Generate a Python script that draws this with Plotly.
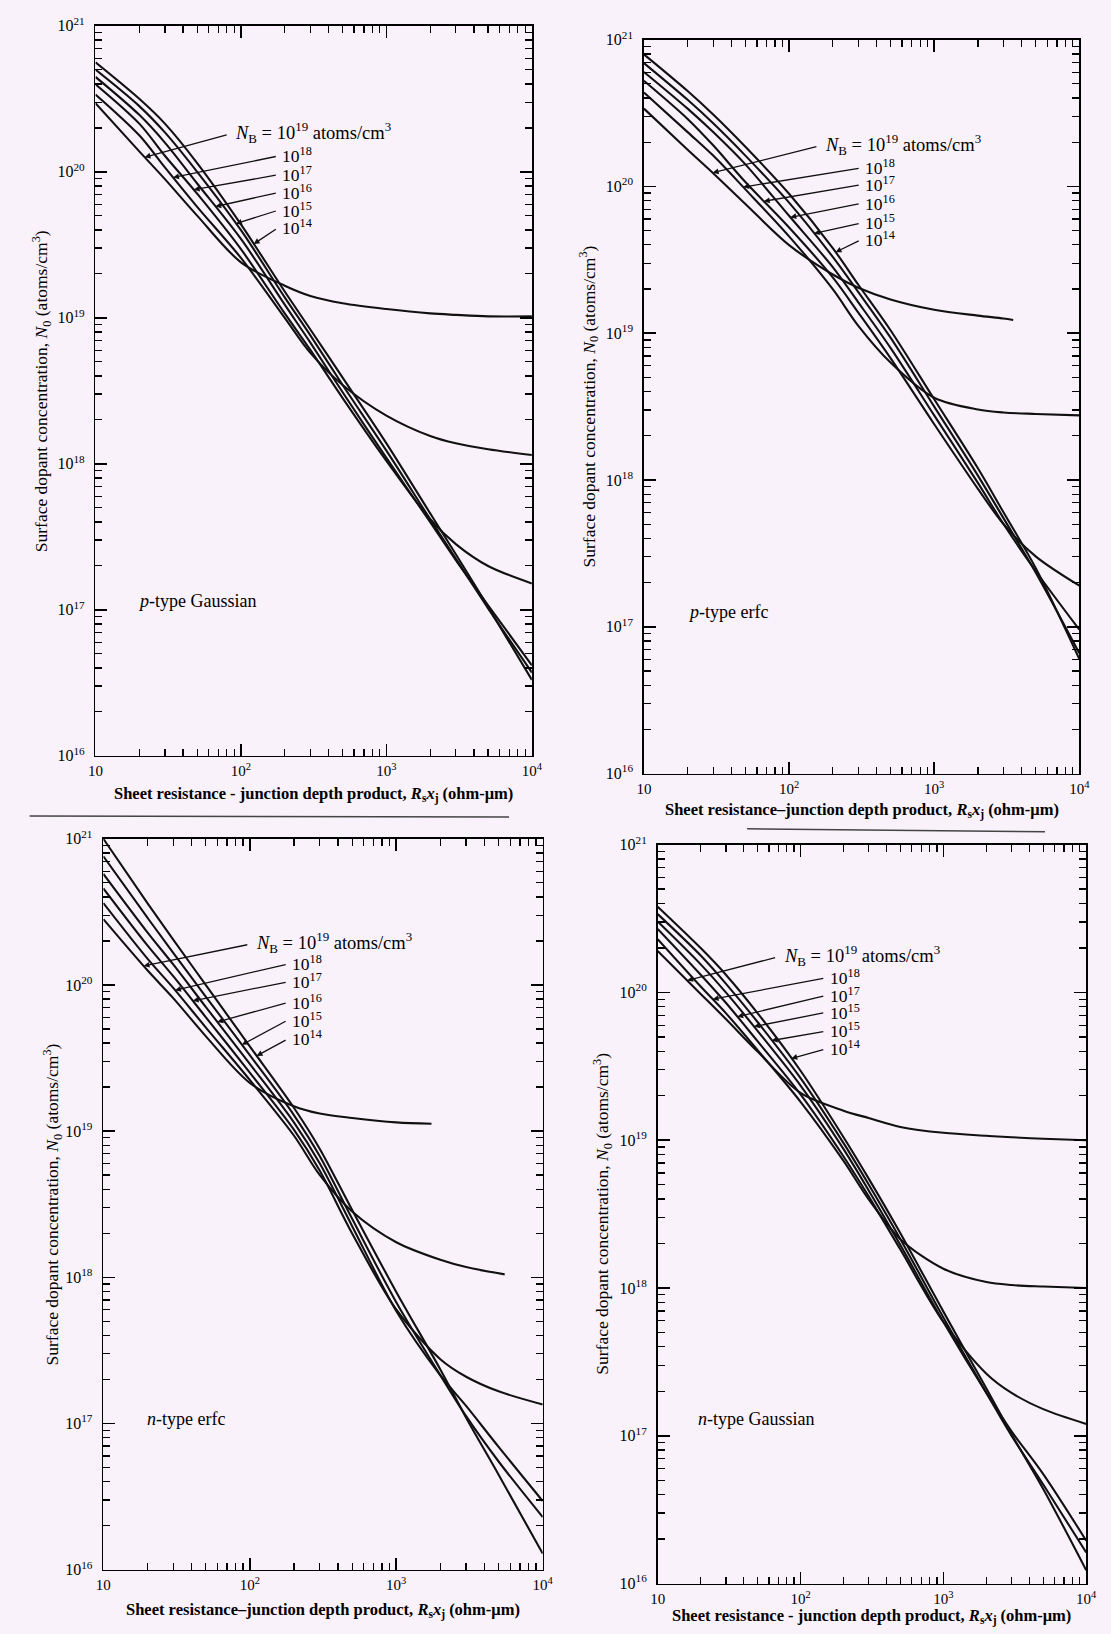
import numpy as np
import plotly.graph_objects as go

W, H = 1111, 1634
FONT = "Liberation Serif"
BG = "#faf2fa"
INK = "#111111"

# ---------------- data ----------------
# x: sheet resistance - junction depth product Rs*xj (ohm-um)
RSXJ = [10, 20, 30, 50, 100, 200, 300, 500, 1000, 2000, 3000, 5000, 10000]
NB_EXPONENTS = [19, 18, 17, 16, 15, 14]

X_TICK_VALS = [10, 100, 1000, 10000]
X_TICK_TEXT = ["10", "10<sup>2</sup>", "10<sup>3</sup>", "10<sup>4</sup>"]
Y_TICK_VALS = [1e16, 1e17, 1e18, 1e19, 1e20, 1e21]
Y_TICK_TEXT = ["10<sup>16</sup>", "10<sup>17</sup>", "10<sup>18</sup>",
               "10<sup>19</sup>", "10<sup>20</sup>", "10<sup>21</sup>"]

# y: surface dopant concentration N0, stored as log10(N0 / atoms cm^-3)
# p-type Gaussian
PG_NB14 = [20.75, 20.50, 20.33, 20.06, 19.64, 19.18, 18.92, 18.59, 18.14, 17.66, 17.38, 17.02, 16.52]
PG_NB15 = [20.70, 20.45, 20.27, 20.00, 19.60, 19.14, 18.88, 18.54, 18.09, 17.62, 17.35, 17.01, 16.57]
PG_NB16 = [20.65, 20.39, 20.20, 19.92, 19.54, 19.09, 18.83, 18.49, 18.04, 17.60, 17.34, 17.03, 16.62]
PG_NB17 = [20.60, 20.33, 20.11, 19.85, 19.47, 19.03, 18.78, 18.45, 18.02, 17.62, 17.45, 17.30, 17.18]
PG_NB18 = [20.53, 20.25, 20.03, 19.76, 19.41, 19.00, 18.76, 18.54, 18.33, 18.19, 18.14, 18.10, 18.06]
PG_NB19 = [20.47, 20.14, 19.95, 19.70, 19.38, 19.22, 19.15, 19.10, 19.06, 19.03, 19.02, 19.01, 19.01]

# p-type erfc
PE_NB14 = [20.90, 20.65, 20.49, 20.27, 19.95, 19.58, 19.33, 19.02, 18.55, 18.08, 17.78, 17.40, 16.78]
PE_NB15 = [20.84, 20.59, 20.43, 20.21, 19.89, 19.52, 19.28, 18.97, 18.50, 18.03, 17.74, 17.37, 16.82]
PE_NB16 = [20.78, 20.53, 20.37, 20.15, 19.80, 19.45, 19.21, 18.90, 18.44, 17.98, 17.70, 17.38, 16.98]
PE_NB17 = [20.72, 20.46, 20.28, 20.03, 19.72, 19.38, 19.14, 18.83, 18.38, 17.94, 17.70, 17.48, 17.28]
PE_NB18 = [20.64, 20.37, 20.21, 19.98, 19.66, 19.30, 19.05, 18.80, 18.56, 18.48, 18.46, 18.45, 18.44]
PE_NB19 = [20.53, 20.25, 20.09, 19.88, 19.60, 19.40, 19.31, 19.23, 19.16, 19.12, 19.10, 19.09]
PE_NB19_X = [10, 20, 30, 50, 100, 200, 300, 500, 1000, 2000, 3000, 3500]

# n-type erfc
NE_NB14 = [21.00, 20.56, 20.31, 20.00, 19.58, 19.16, 18.88, 18.46, 17.90, 17.37, 17.04, 16.65, 16.11]
NE_NB15 = [20.88, 20.46, 20.22, 19.92, 19.52, 19.11, 18.83, 18.40, 17.83, 17.33, 17.05, 16.74, 16.36]
NE_NB16 = [20.76, 20.36, 20.14, 19.85, 19.46, 19.06, 18.78, 18.35, 17.77, 17.33, 17.12, 16.84, 16.47]
NE_NB17 = [20.66, 20.27, 20.06, 19.78, 19.40, 19.01, 18.73, 18.30, 17.78, 17.44, 17.32, 17.22, 17.13]
NE_NB18 = [20.56, 20.18, 19.98, 19.71, 19.35, 18.97, 18.70, 18.45, 18.24, 18.12, 18.07, 18.02]
NE_NB18_X = [10, 20, 30, 50, 100, 200, 300, 500, 1000, 2000, 3000, 5500]
NE_NB19 = [20.45, 20.10, 19.91, 19.65, 19.33, 19.17, 19.12, 19.09, 19.06, 19.05]
NE_NB19_X = [10, 20, 30, 50, 100, 200, 300, 500, 1000, 1740]

# n-type Gaussian
NG_NB14 = [20.58, 20.30, 20.12, 19.86, 19.47, 19.02, 18.74, 18.37, 17.84, 17.32, 17.01, 16.64, 16.09]
NG_NB15 = [20.53, 20.25, 20.06, 19.80, 19.42, 18.98, 18.70, 18.33, 17.80, 17.29, 17.00, 16.67, 16.21]
NG_NB16 = [20.48, 20.19, 20.00, 19.74, 19.37, 18.94, 18.66, 18.29, 17.77, 17.29, 17.03, 16.74, 16.29]
NG_NB17 = [20.43, 20.12, 19.93, 19.67, 19.31, 18.89, 18.62, 18.26, 17.77, 17.42, 17.29, 17.18, 17.08]
NG_NB18 = [20.36, 20.04, 19.86, 19.61, 19.26, 18.86, 18.60, 18.33, 18.13, 18.04, 18.02, 18.01, 18.00]
NG_NB19 = [20.28, 19.99, 19.82, 19.60, 19.32, 19.20, 19.15, 19.09, 19.05, 19.03, 19.02, 19.01, 19.00]

# ---------------- layout description ----------------
def sup(t):
    return f"10<sup>{t}</sup>"

XT_DASH = "Sheet resistance - junction depth product, <i>R</i><sub>s</sub><i>x</i><sub>j</sub> (ohm-\u03bcm)"
XT_EN = "Sheet resistance\u2013junction depth product, <i>R</i><sub>s</sub><i>x</i><sub>j</sub> (ohm-\u03bcm)"

PANELS = [
    dict(curves={19: (RSXJ, PG_NB19), 18: (RSXJ, PG_NB18), 17: (RSXJ, PG_NB17),
                 16: (RSXJ, PG_NB16), 15: (RSXJ, PG_NB15), 14: (RSXJ, PG_NB14)},
         box=(89, 533, 15, 754),
         kind="<i>p</i>-type Gaussian", kind_pos=(130, 597),
         main_pos=(229, 123), main_tip=139,
         small_x=277, small_y=[146, 165, 183, 201, 219], small_tips=[168, 189, 211, 232, 250],
         small_text=[sup(18), sup(17), sup(16), sup(15), sup(14)],
         xtitle=XT_DASH, xtitle_y=793, ytitle_x=34),
    dict(curves={19: (PE_NB19_X, PE_NB19), 18: (RSXJ, PE_NB18), 17: (RSXJ, PE_NB17),
                 16: (RSXJ, PE_NB16), 15: (RSXJ, PE_NB15), 14: (RSXJ, PE_NB14)},
         box=(647, 1090, 29, 772),
         kind="<i>p</i>-type erfc", kind_pos=(690, 608),
         main_pos=(829, 135), main_tip=717,
         small_x=870, small_y=[158, 175, 194, 214, 231], small_tips=[748, 769, 796, 820, 842],
         small_text=[sup(18), sup(17), sup(16), sup(15), sup(14)],
         xtitle=XT_EN, xtitle_y=809, ytitle_x=591),
    dict(curves={19: (NE_NB19_X, NE_NB19), 18: (NE_NB18_X, NE_NB18), 17: (RSXJ, NE_NB17),
                 16: (RSXJ, NE_NB16), 15: (RSXJ, NE_NB15), 14: (RSXJ, NE_NB14)},
         box=(97, 544, 838, 1578),
         kind="<i>n</i>-type erfc", kind_pos=(139, 1425),
         main_pos=(250, 943), main_tip=138,
         small_x=287, small_y=[964, 982, 1003, 1021, 1040], small_tips=[170, 188, 213, 238, 253],
         small_text=[sup(18), sup(17), sup(16), sup(15), sup(14)],
         xtitle=XT_EN, xtitle_y=1619, ytitle_x=45),
    dict(curves={19: (RSXJ, NG_NB19), 18: (RSXJ, NG_NB18), 17: (RSXJ, NG_NB17),
                 16: (RSXJ, NG_NB16), 15: (RSXJ, NG_NB15), 14: (RSXJ, NG_NB14)},
         box=(661, 1097, 844, 1592),
         kind="<i>n</i>-type Gaussian", kind_pos=(700, 1425),
         main_pos=(787, 956), main_tip=691,
         small_x=834, small_y=[978, 996, 1013, 1032, 1050], small_tips=[717, 742, 759, 777, 797],
         small_text=[sup(18), sup(17), sup(15), sup(15), sup(14)],
         xtitle=XT_DASH, xtitle_y=1625, ytitle_x=604),
]

YTITLE = "Surface dopant concentration, <i>N</i><sub>0</sub> (atoms/cm<sup>3</sup>)"
MAIN_LABEL = "<i>N</i><sub>B</sub> = 10<sup>19</sup> atoms/cm<sup>3</sup>"


def px_to_log(box, px, py):
    l, r, t, b = box
    return 1 + 3 * (px - l) / (r - l), 21 - 5 * (py - t) / (b - t)


def curve_at(xs, logs, lx):
    return float(np.interp(lx, np.log10(xs), logs))


fig = go.Figure()
annotations = []
layout = {}

for i, p in enumerate(PANELS, start=1):
    xa = "x" if i == 1 else f"x{i}"
    ya = "y" if i == 1 else f"y{i}"
    l, r, t, b = p["box"]
    for nb in NB_EXPONENTS:
        xs, logs = p["curves"][nb]
        fig.add_trace(go.Scatter(
            x=xs, y=[10 ** v for v in logs], mode="lines",
            line=dict(color=INK, width=2.1, shape="spline", smoothing=0.9),
            xaxis=xa, yaxis=ya, showlegend=False, hoverinfo="skip"))

    common = dict(type="log", showgrid=False, zeroline=False, showline=True,
                  linecolor="black", linewidth=1.7, mirror="allticks",
                  ticks="inside", ticklen=12, tickwidth=1.6, tickcolor="black",
                  minor=dict(ticks="inside", ticklen=7, tickwidth=1.3, tickcolor="black",
                             dtick="D1", showgrid=False),
                  fixedrange=True)
    layout["xaxis" if i == 1 else f"xaxis{i}"] = dict(
        common, domain=[l / W, r / W], range=[1, 4], anchor=ya,
        tickmode="array", tickvals=X_TICK_VALS, ticktext=X_TICK_TEXT,
        tickfont=dict(family=FONT, size=15, color="black"),
        ticklabelstandoff=1)
    layout["yaxis" if i == 1 else f"yaxis{i}"] = dict(
        common, domain=[1 - b / H, 1 - t / H], range=[16, 21], anchor=xa,
        tickmode="array", tickvals=Y_TICK_VALS, ticktext=Y_TICK_TEXT,
        tickfont=dict(family=FONT, size=16, color="black"),
        ticklabelstandoff=6)

    # axis titles
    annotations.append(dict(text="<b>" + p["xtitle"] + "</b>", x=(l + r) / 2 / W,
                            y=1 - p["xtitle_y"] / H,
                            xref="paper", yref="paper", showarrow=False,
                            font=dict(family=FONT, size=16.5, color="black"),
                            xanchor="center", yanchor="middle"))
    annotations.append(dict(text=YTITLE, x=p["ytitle_x"] / W, y=1 - (t + b) / 2 / H,
                            xref="paper", yref="paper", showarrow=False, textangle=-90,
                            font=dict(family=FONT, size=17.5, color="black"),
                            xanchor="center", yanchor="middle"))
    # panel kind label
    kx, ky = p["kind_pos"]
    annotations.append(dict(text=p["kind"], x=kx / W, y=1 - ky / H, xref="paper", yref="paper",
                            showarrow=False, xanchor="left", yanchor="middle",
                            font=dict(family=FONT, size=18, color="black")))
    # main NB label with leader
    mx, my = p["main_pos"]
    annotations.append(dict(text=MAIN_LABEL, x=mx / W, y=1 - my / H, xref="paper", yref="paper",
                            showarrow=False, xanchor="left", yanchor="middle",
                            font=dict(family=FONT, size=18.5, color="black")))
    leaders = [(19, mx - 5, my + 2, p["main_tip"])]
    for nb, sy, tipx in zip([18, 17, 16, 15, 14], p["small_y"], p["small_tips"]):
        leaders.append((nb, p["small_x"] - 3, sy + 1, tipx))
    for txt, sy in zip(p["small_text"], p["small_y"]):
        annotations.append(dict(text=txt, x=p["small_x"] / W, y=1 - sy / H,
                                xref="paper", yref="paper", showarrow=False,
                                xanchor="left", yanchor="middle",
                                font=dict(family=FONT, size=17.5, color="black")))
    for nb, tx, ty, tipx in leaders:
        xs, logs = p["curves"][nb]
        tlx, tly = px_to_log(p["box"], tx, ty)
        hlx, _ = px_to_log(p["box"], tipx, ty)
        hly = curve_at(xs, logs, hlx)
        annotations.append(dict(text="", x=hlx, y=hly, xref=xa, yref=ya,
                                ax=tlx, ay=tly, axref=xa, ayref=ya,
                                showarrow=True, arrowhead=2, arrowsize=0.9,
                                arrowwidth=1.3, arrowcolor=INK, standoff=0))

shapes = [
    dict(type="line", xref="paper", yref="paper", x0=22 / W, x1=510 / W,
         y0=1 - 815 / H, y1=1 - 816 / H, line=dict(color="#444444", width=1.5)),
    dict(type="line", xref="paper", yref="paper", x0=752 / W, x1=1055 / W,
         y0=1 - 828 / H, y1=1 - 831 / H, line=dict(color="#444444", width=1.5)),
]

fig.update_layout(
    width=W, height=H, autosize=False,
    margin=dict(l=0, r=0, t=0, b=0),
    paper_bgcolor=BG, plot_bgcolor=BG,
    font=dict(family=FONT, color="black"),
    annotations=annotations, shapes=shapes,
    **layout)

fig.write_html("out.html", config={"displayModeBar": False, "staticPlot": True},
               post_script="document.body.style.margin='0';document.body.style.background='%s';" % BG)
